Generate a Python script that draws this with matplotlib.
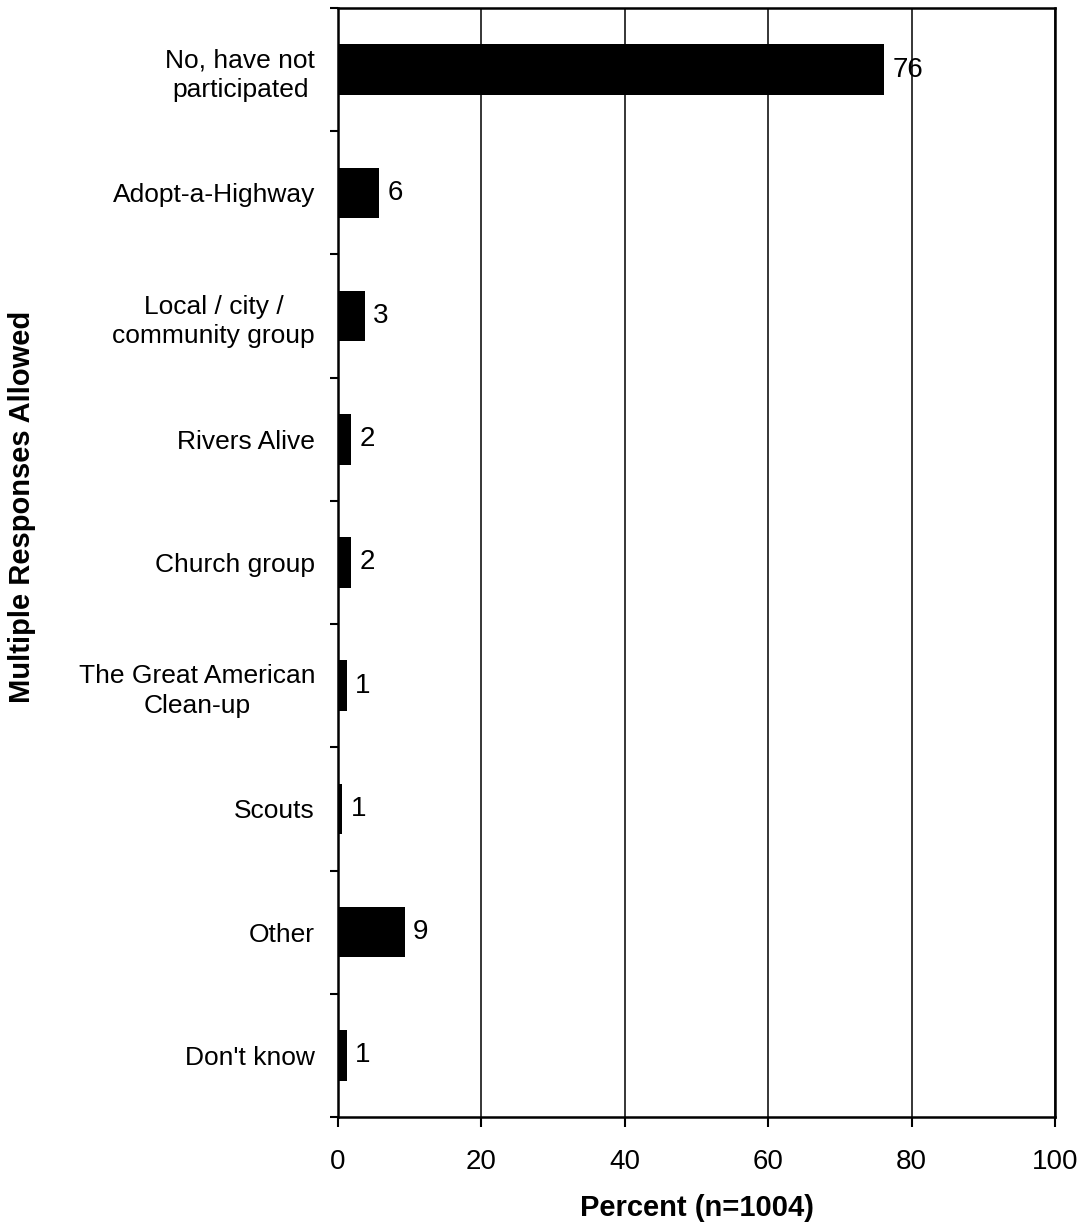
#!/usr/bin/env python3
"""Horizontal bar chart: participation in clean-up programs."""

import matplotlib
matplotlib.use("Agg")
import matplotlib.pyplot as plt
import numpy as np

plt.rcParams["font.family"] = ["Liberation Sans", "DejaVu Sans"]

CATEGORIES = [
    "No, have not\nparticipated",
    "Adopt-a-Highway",
    "Local / city /\ncommunity group",
    "Rivers Alive",
    "Church group",
    "The Great American\nClean-up",
    "Scouts",
    "Other",
    "Don't know",
]
PERCENTS = [76.2, 5.7, 3.7, 1.8, 1.8, 1.2, 0.6, 9.3, 1.2]
VALUE_LABELS = ["76", "6", "3", "2", "2", "1", "1", "9", "1"]
X_TICKS = [0, 20, 40, 60, 80, 100]


def main() -> None:
    fig = plt.figure(figsize=(10.85, 12.28), dpi=100)
    ax = fig.add_axes([0.3115, 0.0904, 0.9724 - 0.3115, 0.9935 - 0.0904])

    n = len(CATEGORIES)
    y = np.arange(n)
    ax.barh(y, PERCENTS, height=0.41, color="black", zorder=3)

    ax.set_xlim(0, 100)
    ax.set_ylim(n - 0.5, -0.5)

    # category labels at bar centres, tick marks at the row boundaries
    ax.set_yticks(y)
    ax.set_yticklabels(CATEGORIES, fontsize=19, ha="right", multialignment="center",
                       linespacing=1.3)
    ax.tick_params(axis="y", which="major", length=0, pad=16.5)
    ax.set_yticks(np.arange(n + 1) - 0.5, minor=True)
    ax.tick_params(axis="y", which="minor", length=6, width=1.5, direction="out")

    ax.set_xticks(X_TICKS)
    ax.tick_params(axis="x", length=7, width=1.5, direction="out", labelsize=20, pad=16)

    ax.grid(axis="x", color="black", linewidth=1.1, zorder=1)
    for side in ["left", "bottom", "top", "right"]:
        ax.spines[side].set_linewidth(1.8)

    for yi, val, txt in zip(y, PERCENTS, VALUE_LABELS):
        ax.annotate(txt, (val, yi), xytext=(6, 0), textcoords="offset points",
                    va="center", ha="left", fontsize=20, zorder=4)

    ax.set_xlabel("Percent (n=1004)", fontsize=21, fontweight="bold", labelpad=14)
    ax.set_ylabel("Multiple Responses Allowed", fontsize=21, fontweight="bold")
    ax.yaxis.set_label_coords(-0.421, 0.55)

    fig.savefig("out.png", dpi=100)


if __name__ == "__main__":
    main()
